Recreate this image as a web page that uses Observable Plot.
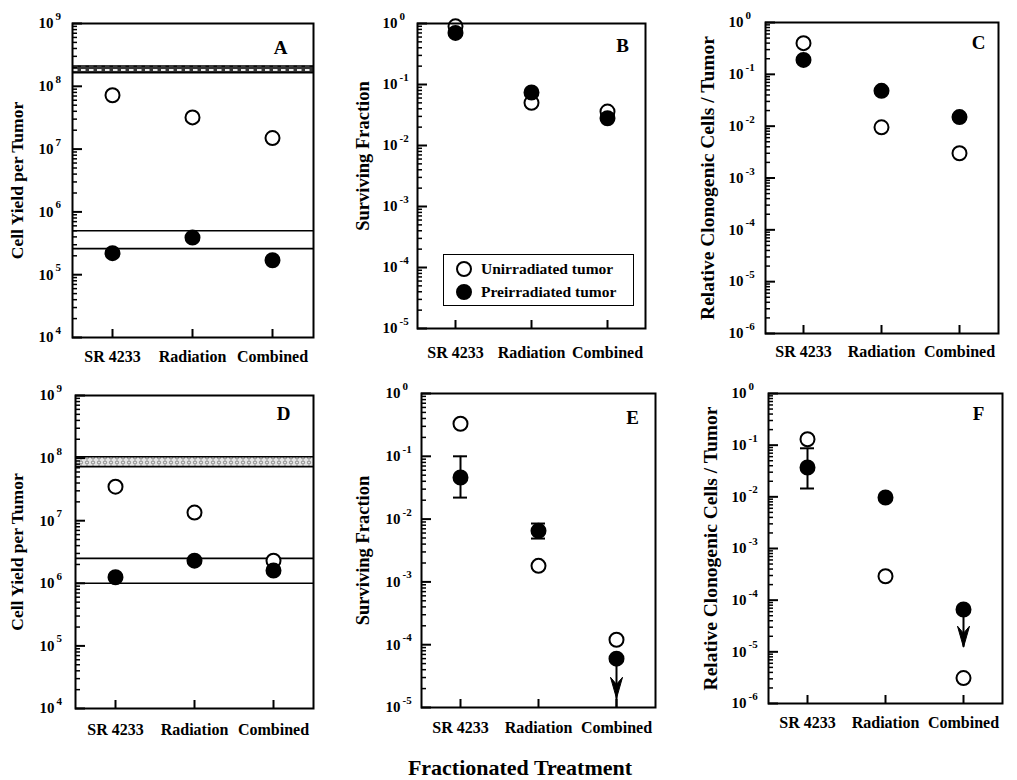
<!DOCTYPE html>
<html><head><meta charset="utf-8">
<script src="https://cdn.jsdelivr.net/npm/d3@7"></script>
<script src="https://cdn.jsdelivr.net/npm/@observablehq/plot@0.6"></script>
<style>
body{margin:0;background:#fff;}
#chart{position:relative;width:1017px;height:780px;background:#fff;font-family:'Liberation Serif','Times New Roman',serif;font-weight:bold;color:#000;overflow:hidden;}
.panel{position:absolute;}
.legend{position:absolute;left:443px;top:254px;width:189px;height:50px;border:1.5px solid #000;background:#fff;font-size:15.5px;}
.legend .row{position:absolute;left:11px;height:20px;display:flex;align-items:center;}
.legend svg{margin-right:8px;}
.xtitle{position:absolute;left:370px;width:300px;top:755px;text-align:center;font-size:22px;}
</style></head><body>
<svg width="0" height="0" style="position:absolute">
  <defs>
    <pattern id="dashA" width="8" height="4" patternUnits="userSpaceOnUse">
      <rect width="8" height="4" fill="#333"/>
      <rect x="1" y="1.1" width="4.5" height="1.8" fill="#fff"/>
    </pattern>
    <pattern id="stippleD" width="6" height="5" patternUnits="userSpaceOnUse">
      <rect width="6" height="5" fill="#e6e6e6"/>
      <circle cx="3" cy="2.5" r="1.6" fill="none" stroke="#777" stroke-width="0.9"/>
    </pattern>
  </defs>
</svg>
<div id="chart"></div>
<script>
const categories = ["SR 4233", "Radiation", "Combined"];

// tick exponents (labels 10^e)
const yieldExps = [4, 5, 6, 7, 8, 9];
const survExps = [-5, -4, -3, -2, -1, 0];
const clonoExps = [-6, -5, -4, -3, -2, -1, 0];

// Panel A – cell yield per tumor
const unirrA = [7.2e7, 3.2e7, 1.5e7];
const preA = [2.2e5, 3.9e5, 1.7e5];
const bandA = [1.65e8, 2.1e8];
const linesA = [2.6e5, 5.0e5];

// Panel B – surviving fraction
const unirrB = [0.9, 0.05, 0.036];
const preB = [0.7, 0.074, 0.028];

// Panel C – relative clonogenic cells / tumor
const unirrC = [0.4, 0.0095, 0.003];
const preC = [0.19, 0.048, 0.015];

// Panel D – cell yield per tumor
const unirrD = [3.5e7, 1.35e7, 2.3e6];
const preD = [1.25e6, 2.3e6, 1.6e6];
const bandD = [7.3e7, 1.05e8];
const linesD = [1.0e6, 2.5e6];

// Panel E – surviving fraction
const unirrE = [0.33, 0.0018, 1.2e-4];
const preE = [0.046, 0.0065, 6e-5];
const errCatsE = ["SR 4233", "Radiation"];
const errLoE = [0.022, 0.0049];
const errHiE = [0.10, 0.0085];
const arrowCatE = ["Combined"];
const arrowFromE = [6e-5];
const arrowTipE = [1.4e-5];
const arrowEndE = [1e-5];

// Panel F – relative clonogenic cells / tumor
const unirrF = [0.13, 2.9e-4, 3.1e-6];
const preF = [0.037, 0.0097, 6.6e-5];
const errCatsF = ["SR 4233"];
const errLoF = [0.0145];
const errHiF = [0.087];
const arrowCatF = ["Combined"];
const arrowFromF = [6.6e-5];
const arrowTipF = [1.23e-5];
const arrowEndF = [1.23e-5];

const rows = vals => categories.map((c, i) => ({cat: c, v: vals[i]}));
const errRows = (cats, lo, hi) => cats.map((c, i) => ({cat: c, lo: lo[i], hi: hi[i]}));
const arrowRows = (cats, from, tip, end) => cats.map((c, i) => ({cat: c, from: from[i], tip: tip[i], end: end[i]}));

const headSymbol = {
  draw(context) {
    context.moveTo(0, 0);
    context.lineTo(-6, -21);
    context.lineTo(0, -14);
    context.lineTo(6, -21);
    context.closePath();
  }
};

const FONT = "'Liberation Serif','Times New Roman',serif";
const TICK = "black";

function makePanel(p) {
  const exps = p.exps;
  const e0 = exps[0], e1 = exps[exps.length - 1];
  const major = exps.map(e => 10 ** e);
  const minor = [];
  for (let e = e0; e < e1; e++) for (let k = 2; k <= 9; k++) minor.push(k * 10 ** e);
  const frameW = p.width - p.m[0] - p.m[1];
  const frameH = p.height - p.m[2] - p.m[3];
  const marks = [];
  if (p.band) {
    marks.push(Plot.rect([p.band], {y1: d => d[0], y2: d => d[1], fill: `url(#${p.pattern})`}));
    marks.push(Plot.ruleY(p.band, {stroke: "black", strokeWidth: 1.6}));
  }
  if (p.lines) marks.push(Plot.ruleY(p.lines, {stroke: "black", strokeWidth: 1.6}));
  marks.push(Plot.text(exps, {y: e => 10 ** e, text: () => "10", frameAnchor: "left", textAnchor: "end", lineAnchor: "middle", dx: -p.tenDx, fontSize: 15}));
  marks.push(Plot.text(exps, {y: e => 10 ** e, text: e => String(e), frameAnchor: "left", textAnchor: "start", lineAnchor: "middle", dx: -p.tenDx + 2, dy: -7, fontSize: 11}));
  marks.push(Plot.axisX({tickSize: 0, tickPadding: p.pad, label: null, fontSize: 16}));
  marks.push(Plot.text([p.title], {frameAnchor: "left", rotate: -90, textAnchor: "middle", lineAnchor: "middle", dx: -p.titleOffset, dy: p.titleDy || 0, fontSize: p.titleSize}));
  marks.push(Plot.text([p.letter], {frameAnchor: "top-right", textAnchor: "middle", lineAnchor: "middle", dx: p.letterDx, dy: p.letterDy, fontSize: 19}));
  if (p.err) {
    marks.push(Plot.ruleX(p.err, {x: "cat", y1: "lo", y2: "hi", stroke: "black", strokeWidth: 2}));
    marks.push(Plot.tickY(p.err, {x: "cat", y: "lo", stroke: "black", strokeWidth: 2}));
    marks.push(Plot.tickY(p.err, {x: "cat", y: "hi", stroke: "black", strokeWidth: 2}));
  }
  if (p.arrow) {
    marks.push(Plot.ruleX(p.arrow, {x: "cat", y1: "from", y2: "end", stroke: "black", strokeWidth: 2}));
    marks.push(Plot.dot(p.arrow, {x: "cat", y: "tip", symbol: headSymbol, fill: "black", stroke: "black", strokeWidth: 1}));
  }
  marks.push(Plot.dot(rows(p.unirr), {x: "cat", y: "v", r: 7, fill: "white", stroke: "black", strokeWidth: 2}));
  marks.push(Plot.dot(rows(p.pre), {x: "cat", y: "v", r: 7, fill: "black", stroke: "black", strokeWidth: 2}));
  marks.push(Plot.frame({stroke: "black", strokeWidth: 2}));
  // inward y ticks (minor + major), inward x ticks
  marks.push(Plot.ruleY(minor, {insetRight: frameW - 5, stroke: TICK, strokeWidth: 1.5}));
  marks.push(Plot.ruleY(major, {insetRight: frameW - 10, stroke: TICK, strokeWidth: 2}));
  marks.push(Plot.ruleX(categories, {insetTop: frameH - 8, stroke: TICK, strokeWidth: 2}));
  const svg = Plot.plot({
    width: p.width, height: p.height,
    marginLeft: p.m[0], marginRight: p.m[1], marginTop: p.m[2], marginBottom: p.m[3],
    style: {fontFamily: FONT, fontWeight: "bold", fontSize: "15px", color: "black", background: "transparent", overflow: "visible"},
    x: {type: "band", domain: categories, paddingInner: 0.82, paddingOuter: 0.4, axis: null},
    y: {type: "log", domain: [10 ** e0, 10 ** e1], axis: null},
    marks
  });
  const wrap = document.createElement("div");
  wrap.className = "panel";
  wrap.style.left = p.left + "px";
  wrap.style.top = p.top + "px";
  wrap.appendChild(svg);
  return wrap;
}

const chart = document.getElementById("chart");
const panels = [
  {letter: "A", left: 0, top: 0, width: 330, height: 380, m: [72, 17, 23, 43], exps: yieldExps, unirr: unirrA, pre: preA,
   band: bandA, pattern: "dashA", lines: linesA, title: "Cell Yield per Tumor", titleSize: 17.5, titleOffset: 55, pad: 13, tenDx: 19, letterDx: -33, letterDy: 24},
  {letter: "B", left: 340, top: 0, width: 330, height: 380, m: [77, 25, 23, 52], exps: survExps, unirr: unirrB, pre: preB,
   title: "Surviving Fraction", titleSize: 18.5, titleOffset: 54, titleDy: -20, pad: 18, tenDx: 20, letterDx: -23, letterDy: 22},
  {letter: "C", left: 670, top: 0, width: 347, height: 380, m: [95, 19, 22, 47], exps: clonoExps, unirr: unirrC, pre: preC,
   title: "Relative Clonogenic Cells / Tumor", titleSize: 19.5, titleOffset: 58, pad: 12, tenDx: 22, letterDx: -20, letterDy: 20},
  {letter: "D", left: 0, top: 380, width: 330, height: 400, m: [75, 17, 15, 72], exps: yieldExps, unirr: unirrD, pre: preD,
   band: bandD, pattern: "stippleD", lines: linesD, title: "Cell Yield per Tumor", titleSize: 17.5, titleOffset: 58, pad: 15, tenDx: 21, letterDx: -30, letterDy: 18},
  {letter: "E", left: 340, top: 380, width: 330, height: 400, m: [81, 15, 13, 73], exps: survExps, unirr: unirrE, pre: preE,
   err: errRows(errCatsE, errLoE, errHiE), arrow: arrowRows(arrowCatE, arrowFromE, arrowTipE, arrowEndE),
   title: "Surviving Fraction", titleSize: 18.5, titleOffset: 58, pad: 14, tenDx: 21, letterDx: -23, letterDy: 24},
  {letter: "F", left: 670, top: 380, width: 347, height: 400, m: [98, 15, 13, 77], exps: clonoExps, unirr: unirrF, pre: preF,
   err: errRows(errCatsF, errLoF, errHiF), arrow: arrowRows(arrowCatF, arrowFromF, arrowTipF, arrowEndF),
   title: "Relative Clonogenic Cells / Tumor", titleSize: 19.5, titleOffset: 58, pad: 13, tenDx: 22, letterDx: -24, letterDy: 20}
];
for (const p of panels) chart.appendChild(makePanel(p));

// legend (inside panel B)
const legendItems = ["Unirradiated tumor", "Preirradiated tumor"];
const legendFills = ["white", "black"];
const legend = document.createElement("div");
legend.className = "legend";
legendItems.forEach((label, i) => {
  const row = document.createElement("div");
  row.className = "row";
  row.style.top = (4 + i * 23) + "px";
  row.innerHTML = `<svg width="18" height="18"><circle cx="9" cy="9" r="7" fill="${legendFills[i]}" stroke="black" stroke-width="2"/></svg><span>${label}</span>`;
  legend.appendChild(row);
});
chart.appendChild(legend);

const xt = document.createElement("div");
xt.className = "xtitle";
xt.textContent = "Fractionated Treatment";
chart.appendChild(xt);
</script>
</body></html>
